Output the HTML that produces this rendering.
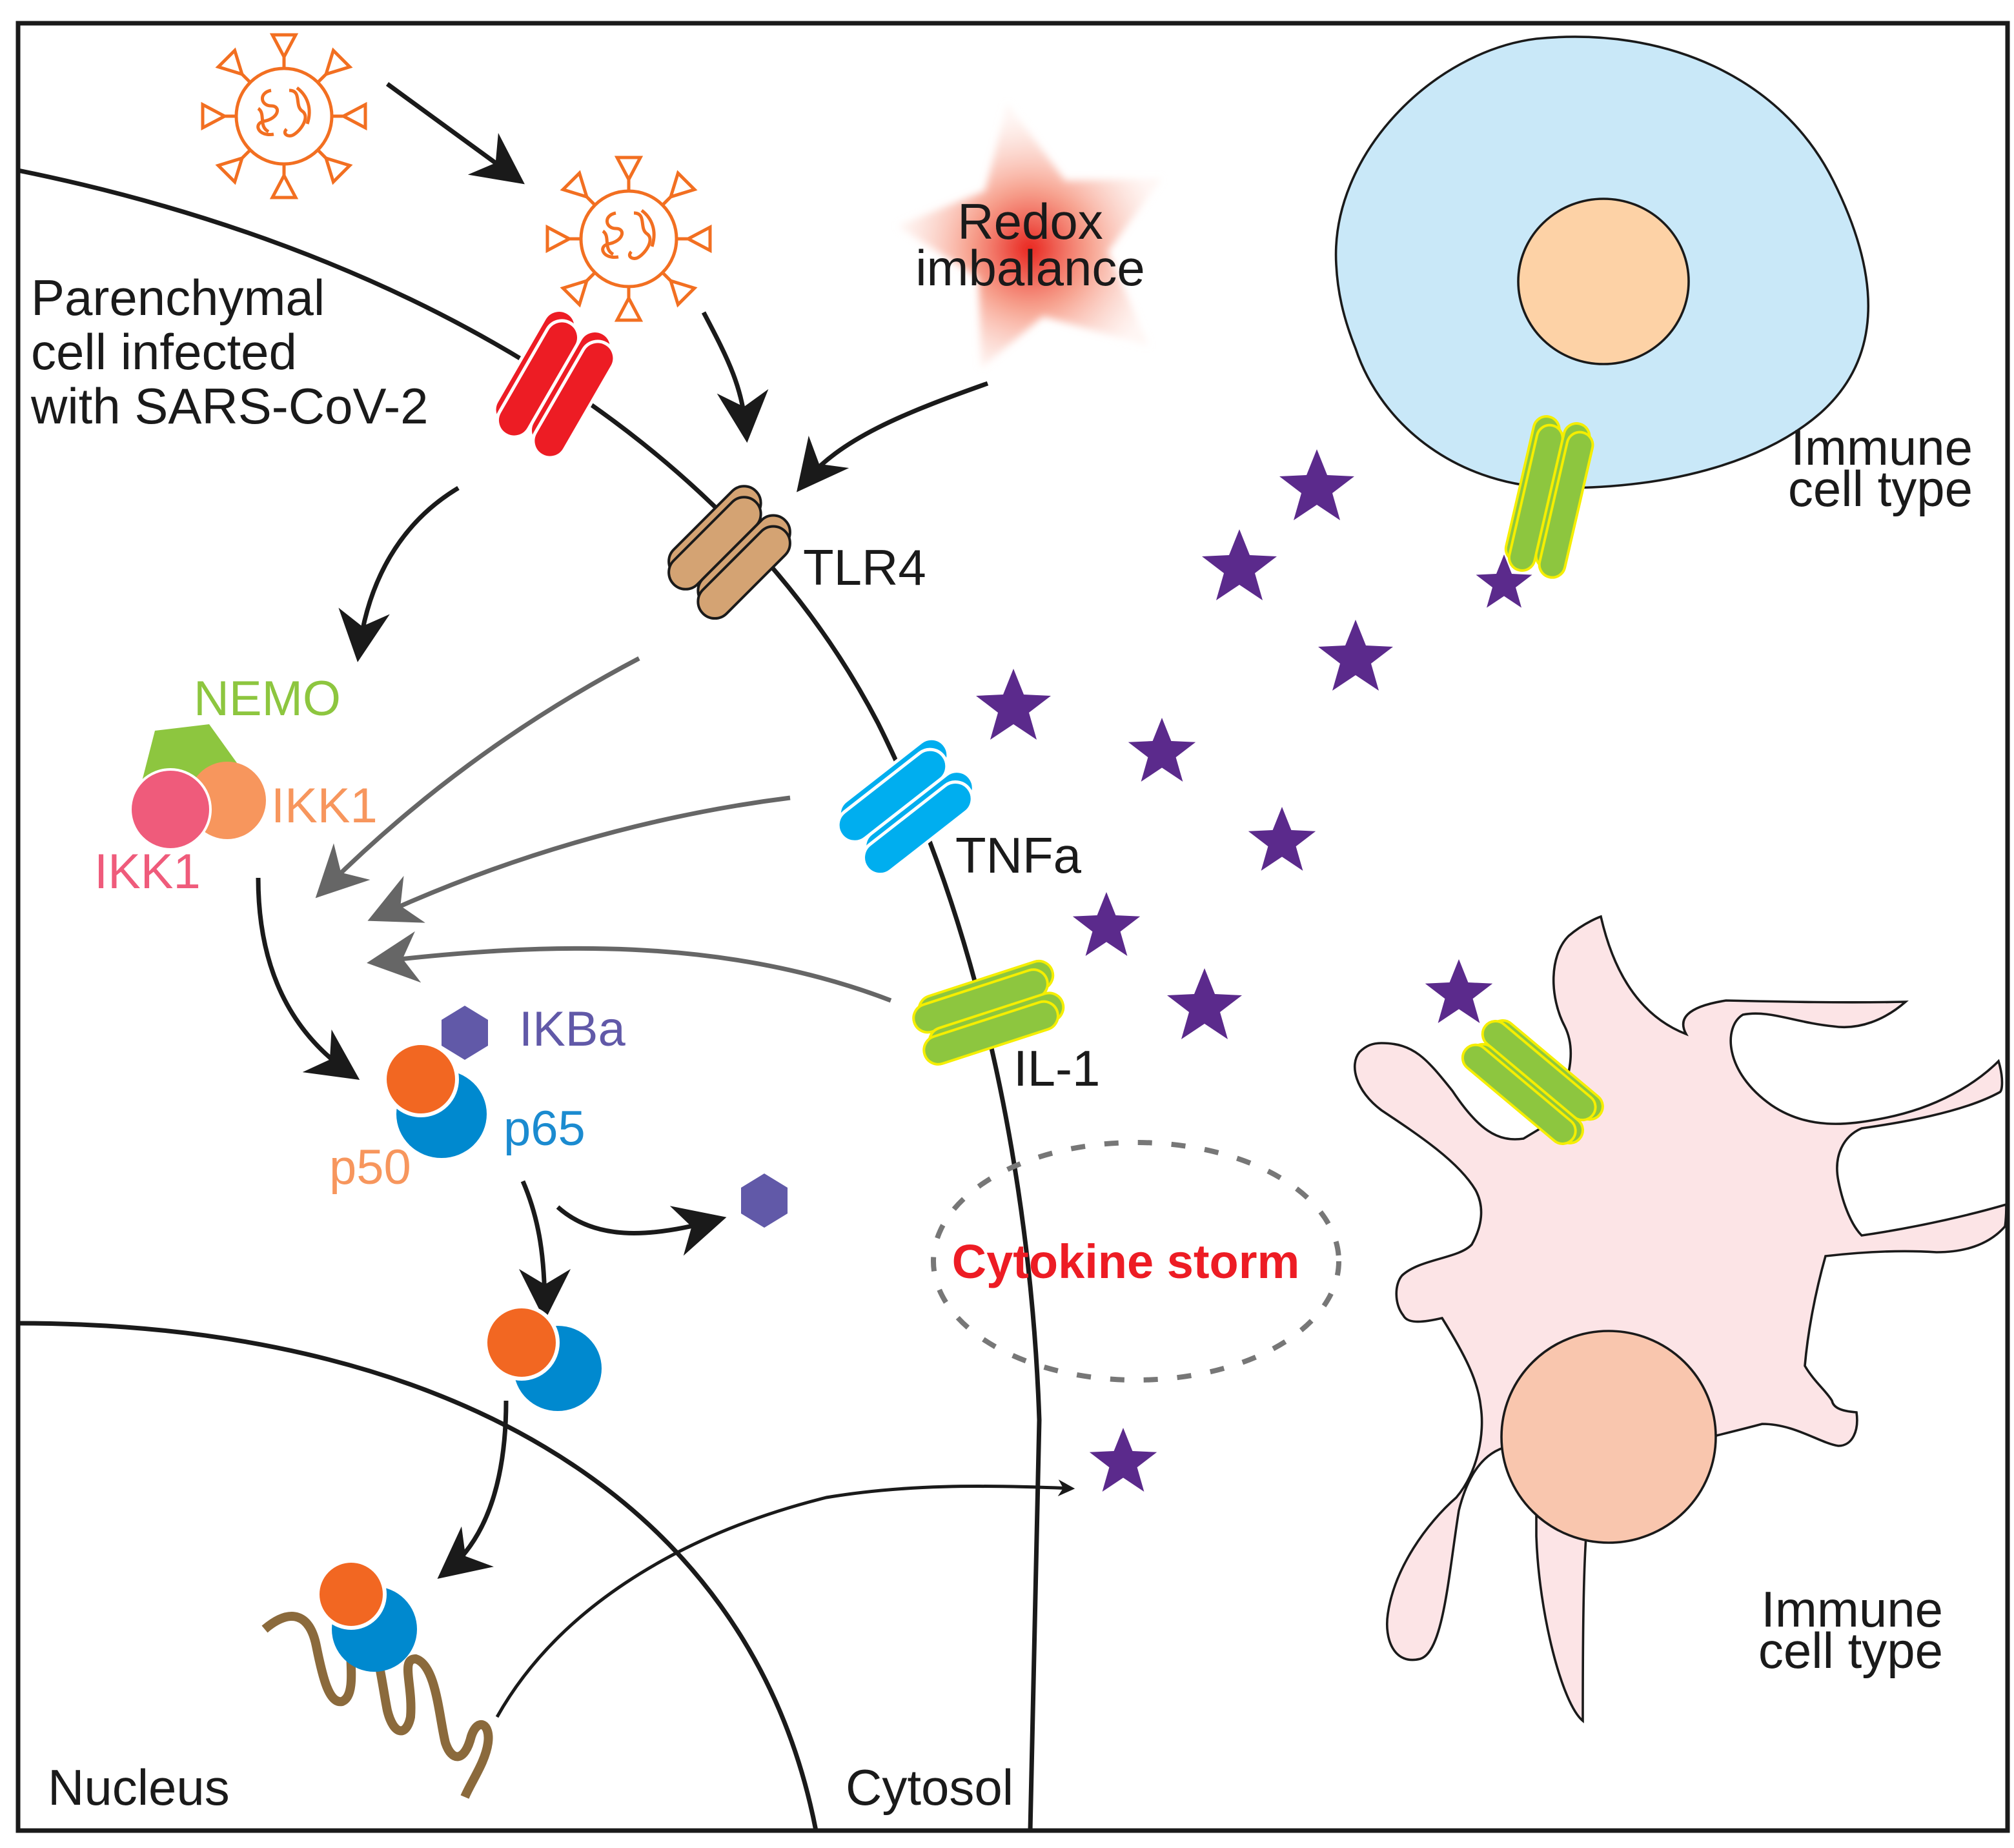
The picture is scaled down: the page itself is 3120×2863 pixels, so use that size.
<!DOCTYPE html>
<html><head><meta charset="utf-8"><style>
html,body{margin:0;padding:0;background:#fff}
svg{display:block}
text{font-family:"Liberation Sans",Arial,sans-serif}
</style></head><body>
<svg width="3120" height="2863" viewBox="0 0 1560 1431.5" preserveAspectRatio="none" xmlns="http://www.w3.org/2000/svg">
<defs>
<marker id="ab" viewBox="0 0 20 20" refX="16" refY="10" markerWidth="13" markerHeight="13" orient="auto" markerUnits="userSpaceOnUse"><path d="M0,0 L20,10 L0,20 L6,10 Z" fill="#1a1a1a"/></marker>
<marker id="abig" viewBox="0 0 20 20" refX="16" refY="10" markerWidth="40" markerHeight="40" orient="auto" markerUnits="userSpaceOnUse"><path d="M0,0 L20,10 L0,20 L6,10 Z" fill="#1a1a1a"/></marker>
<marker id="ag" viewBox="0 0 20 20" refX="16" refY="10" markerWidth="40" markerHeight="40" orient="auto" markerUnits="userSpaceOnUse"><path d="M0,0 L20,10 L0,20 L6,10 Z" fill="#666"/></marker>
<radialGradient id="rg" cx="0.5" cy="0.55" r="0.5"><stop offset="0" stop-color="#e8221c"/><stop offset="0.45" stop-color="#f58a72" stop-opacity="0.8"/><stop offset="1" stop-color="#fde0d8" stop-opacity="0.3"/></radialGradient>
<filter id="bl"><feGaussianBlur stdDeviation="3"/></filter>
<g id="star"><polygon points="0,-30 8,-10 29,-9 12,4 18,25 0,13 -18,25 -12,4 -29,-9 -8,-10" fill="#5b2a8c"/></g>
<g id="vir" fill="none" stroke="#f26f21" stroke-width="2.5">
<circle r="37"/>
<path d="M-10,-20 c-10,2 -8,12 0,12 c8,0 6,10 -6,12 c-8,2 -4,12 8,10 M4,-20 c10,0 4,12 10,16 c6,4 0,14 -6,18 c-4,3 -10,0 -6,-4 M10,-22 c8,6 12,16 8,28 M-20,-6 c6,4 0,14 8,18"/>
<g id="sp"><line x1="0" y1="-37" x2="0" y2="-46"/><polygon points="-9,-63 9,-63 0,-46"/></g>
<use href="#sp" transform="rotate(45)"/><use href="#sp" transform="rotate(90)"/><use href="#sp" transform="rotate(135)"/><use href="#sp" transform="rotate(180)"/><use href="#sp" transform="rotate(225)"/><use href="#sp" transform="rotate(270)"/><use href="#sp" transform="rotate(315)"/>
</g>
<polygon id="hex" points="0,-21 18,-10 18,10 0,21 -18,10 -18,-10" fill="#6159a8"/>
</defs>

<!-- immune cells -->
<path d="M1035,205 C1030,120 1110,40 1190,30 C1290,20 1380,60 1420,140 C1460,220 1455,280 1410,320 C1370,355 1300,378 1210,378 C1130,378 1070,330 1050,270 C1040,245 1036,225 1035,205Z" fill="#c9e8f8" stroke="#1a1a1a" stroke-width="1.8"/>
<ellipse cx="1242" cy="218" rx="66" ry="64" fill="#fdd2a6" stroke="#1a1a1a" stroke-width="1.8"/>

<path d="M1070,808 C1095,808 1105,820 1125,845 C1145,875 1160,885 1180,882 L1200,870 C1215,840 1222,815 1212,795 C1200,772 1200,740 1215,725 C1228,714 1240,710 1240,710 C1248,745 1265,785 1306,801 C1300,790 1305,780 1337,775 C1380,776 1430,777 1476,776 C1460,790 1440,798 1420,795 C1390,792 1370,782 1350,786 C1335,795 1335,830 1372,856 C1400,875 1430,872 1460,866 C1500,858 1530,840 1548,822 C1552,835 1551,845 1549,846 C1520,862 1470,870 1442,874 C1428,880 1420,895 1424,915 C1428,935 1435,950 1442,957 C1490,950 1530,940 1554,933 C1554,945 1553,950 1553,950 C1540,965 1520,970 1500,970 C1470,968 1440,970 1414,973 C1405,1005 1400,1035 1398,1058 C1405,1070 1415,1078 1419,1085 C1420,1090 1425,1093 1438,1094 C1440,1108 1435,1120 1424,1120 C1410,1118 1390,1103 1365,1103 C1320,1115 1270,1125 1240,1140 C1228,1150 1226,1200 1226,1333 C1210,1320 1192,1250 1190,1190 L1190,1120 C1160,1115 1140,1130 1130,1170 C1122,1220 1118,1280 1100,1285 C1080,1290 1072,1270 1075,1250 C1080,1215 1105,1180 1128,1160 C1145,1140 1150,1110 1147,1090 C1145,1070 1135,1050 1117,1021 C1100,1025 1090,1025 1087,1019 C1080,1010 1080,995 1086,988 C1100,975 1130,975 1140,964 C1148,950 1150,935 1143,922 C1130,900 1100,880 1070,860 C1050,845 1045,825 1053,815 C1058,810 1063,808 1070,808Z" fill="#fce4e6" stroke="#1a1a1a" stroke-width="1.8"/>
<ellipse cx="1246" cy="1113" rx="83" ry="82" fill="#f9c6ae" stroke="#1a1a1a" stroke-width="1.8"/>

<!-- membranes -->
<path d="M14,132 C300,190 560,330 680,560 C770,740 800,950 805,1100 L798,1418" fill="none" stroke="#1a1a1a" stroke-width="3.5"/>
<path d="M14,1025 C330,1025 580,1150 632,1418" fill="none" stroke="#1a1a1a" stroke-width="3.5"/>

<!-- redox -->
<polygon points="780,80 825,140 900,138 858,195 890,268 808,245 760,285 758,215 695,175 763,148" fill="url(#rg)" filter="url(#bl)"/>

<!-- viruses -->
<use href="#vir" transform="translate(220,90)"/>
<use href="#vir" transform="translate(487,185)"/>

<!-- black arrows -->
<g fill="none" stroke="#1a1a1a" stroke-width="3.5">
<path d="M300,65 L400,138" marker-end="url(#abig)"/>
<path d="M545,242 C565,280 575,300 578,335" marker-end="url(#abig)"/>
<path d="M765,297 C700,320 650,340 622,375" marker-end="url(#abig)"/>
<path d="M355,378 C310,405 285,450 278,505" marker-end="url(#abig)"/>
<path d="M200,680 C200,750 225,800 272,832" marker-end="url(#abig)"/>
<path d="M405,915 C418,945 422,975 422,1015" marker-end="url(#abig)"/>
<path d="M432,935 C460,960 500,960 555,945" marker-end="url(#abig)"/>
<path d="M392,1085 C392,1140 380,1190 345,1218" marker-end="url(#abig)"/>
</g>
<path d="M385,1330 C430,1250 520,1190 640,1160 C700,1150 760,1150 830,1153" fill="none" stroke="#1a1a1a" stroke-width="2.5" marker-end="url(#ab)"/>

<!-- grey arrows -->
<g fill="none" stroke="#666" stroke-width="3.5">
<path d="M495,510 C400,560 320,620 250,690" marker-end="url(#ag)"/>
<path d="M612,618 C500,632 390,665 292,710" marker-end="url(#ag)"/>
<path d="M690,775 C560,725 420,730 292,745" marker-end="url(#ag)"/>
</g>

<!-- receptors -->
<g transform="translate(428,300) rotate(-60)" stroke="#fff" stroke-width="2.5" fill="#ed1c24">
<rect x="-44" y="-32" width="100" height="26" rx="13"/><rect x="-50" y="-26" width="100" height="26" rx="13"/>
<rect x="-44" y="0" width="100" height="26" rx="13"/><rect x="-50" y="6" width="100" height="26" rx="13"/>
</g>
<g transform="translate(565,425) rotate(-45)" stroke="#1a1a1a" stroke-width="2" fill="#d4a373">
<rect x="-44" y="-30" width="90" height="26" rx="13"/><rect x="-50" y="-24" width="90" height="26" rx="13"/>
<rect x="-44" y="2" width="90" height="26" rx="13"/><rect x="-50" y="8" width="90" height="26" rx="13"/>
</g>
<g transform="translate(698,625) rotate(-38)" stroke="#fff" stroke-width="2.5" fill="#00aeef">
<rect x="-44" y="-30" width="100" height="26" rx="13"/><rect x="-50" y="-24" width="100" height="26" rx="13"/>
<rect x="-44" y="2" width="100" height="26" rx="13"/><rect x="-50" y="8" width="100" height="26" rx="13"/>
</g>
<g transform="translate(762,783) rotate(-18)" stroke="#f5ee00" stroke-width="2" fill="#8dc63f">
<rect x="-48" y="-24" width="108" height="22" rx="11"/><rect x="-54" y="-19" width="108" height="22" rx="11"/>
<rect x="-48" y="2" width="108" height="22" rx="11"/><rect x="-54" y="7" width="108" height="22" rx="11"/>
</g>
<g transform="translate(1198,385) rotate(-77)" stroke="#f5ee00" stroke-width="2" fill="#8dc63f">
<rect x="-54" y="-22" width="115" height="20" rx="10"/><rect x="-60" y="-18" width="115" height="20" rx="10"/>
<rect x="-54" y="2" width="115" height="20" rx="10"/><rect x="-60" y="6" width="115" height="20" rx="10"/>
</g>
<g transform="translate(1190,838) rotate(40)" stroke="#f5ee00" stroke-width="2" fill="#8dc63f">
<rect x="-54" y="-22" width="108" height="20" rx="10"/><rect x="-58" y="-18" width="108" height="20" rx="10"/>
<rect x="-54" y="2" width="108" height="20" rx="10"/><rect x="-58" y="6" width="108" height="20" rx="10"/>
</g>

<!-- stars -->
<use href="#star" transform="translate(1020,378)"/>
<use href="#star" transform="translate(960,440)"/>
<use href="#star" transform="translate(1165,452) scale(0.75)"/>
<use href="#star" transform="translate(1050,510)"/>
<use href="#star" transform="translate(785,548)"/>
<use href="#star" transform="translate(900,583) scale(0.9)"/>
<use href="#star" transform="translate(993,652) scale(0.9)"/>
<use href="#star" transform="translate(857,718) scale(0.9)"/>
<use href="#star" transform="translate(933,780)"/>
<use href="#star" transform="translate(1130,770) scale(0.9)"/>
<use href="#star" transform="translate(870,1133) scale(0.9)"/>

<!-- NFkB complex -->
<polygon points="120,566 162,561 190,600 150,615 110,605" fill="#8dc63f"/>
<circle cx="176" cy="620" r="30" fill="#f7965d"/>
<circle cx="132" cy="627" r="31" fill="#ef5b7b" stroke="#fff" stroke-width="2"/>
<use href="#hex" transform="translate(360,800)"/>
<ellipse cx="342" cy="863" rx="35" ry="34" fill="#0089cf"/>
<circle cx="326" cy="836" r="28" fill="#f26722" stroke="#fff" stroke-width="3"/>
<use href="#hex" transform="translate(592,930)"/>
<ellipse cx="432" cy="1060" rx="34" ry="33" fill="#0089cf"/>
<circle cx="404" cy="1040" r="28" fill="#f26722" stroke="#fff" stroke-width="3"/>
<g fill="none" stroke="#8b6a3c" stroke-width="7">
<path d="M205,1262 C225,1245 240,1250 245,1275 C250,1300 255,1320 265,1318 C280,1312 265,1265 275,1258 C290,1250 295,1300 300,1325 C305,1345 315,1345 318,1330 C320,1305 310,1285 322,1285 C338,1290 340,1330 345,1350 C350,1365 360,1365 365,1345 C370,1330 380,1335 378,1350 C376,1365 365,1380 360,1392"/>
</g>
<ellipse cx="290" cy="1262" rx="33" ry="33" fill="#0089cf"/>
<circle cx="272" cy="1235" r="26" fill="#f26722" stroke="#fff" stroke-width="3"/>

<ellipse cx="880" cy="977" rx="157" ry="92" fill="none" stroke="#777" stroke-width="4" stroke-dasharray="11,15"/>

<!-- text -->
<g font-size="39" fill="#1a1a1a">
<text x="24" y="244">Parenchymal</text>
<text x="24" y="286">cell infected</text>
<text x="24" y="328">with SARS-CoV-2</text>
<text x="798" y="185" text-anchor="middle">Redox</text>
<text x="798" y="221" text-anchor="middle">imbalance</text>
<text x="622" y="453">TLR4</text>
<text x="740" y="676">TNFa</text>
<text x="785" y="841">IL-1</text>
<text x="1528" y="360" text-anchor="end">Immune</text>
<text x="1528" y="392" text-anchor="end">cell type</text>
<text x="1505" y="1260" text-anchor="end">Immune</text>
<text x="1505" y="1292" text-anchor="end">cell type</text>
<text x="37" y="1398">Nucleus</text>
<text x="655" y="1398">Cytosol</text>
</g>
<text x="150" y="554" font-size="38" fill="#8dc63f">NEMO</text>
<text x="210" y="637" font-size="38" fill="#f7965d">IKK1</text>
<text x="73" y="688" font-size="38" fill="#ef5b7b">IKK1</text>
<text x="402" y="810" font-size="38" fill="#6159a8">IKBa</text>
<text x="390" y="887" font-size="38" fill="#1b8bd0">p65</text>
<text x="255" y="917" font-size="38" fill="#f7965d">p50</text>
<text x="872" y="990" font-size="37" font-weight="bold" fill="#ed1c24" text-anchor="middle">Cytokine storm</text>

<rect x="14" y="18" width="1541" height="1400" fill="none" stroke="#1a1a1a" stroke-width="3.5"/>
</svg>
</body></html>
